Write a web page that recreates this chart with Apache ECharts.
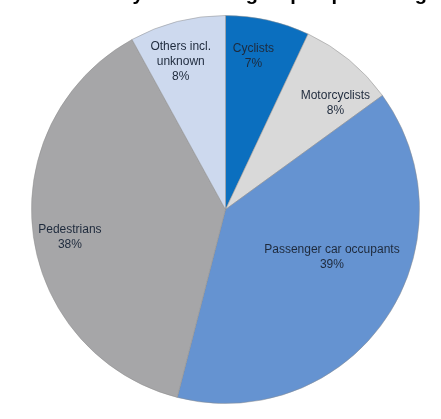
<!DOCTYPE html>
<html>
<head>
<meta charset="utf-8">
<script src="https://cdn.jsdelivr.net/npm/echarts@6/dist/echarts.min.js"></script>
<style>
  html, body { margin: 0; padding: 0; background: #fff; }
  #chart { width: 441px; height: 419px; }
</style>
</head>
<body>
<div id="chart"></div>
<script>
// road user groups, clockwise from 12 o'clock
var categories = ['Cyclists', 'Motorcyclists', 'Passenger car occupants', 'Pedestrians', 'Others incl.\nunknown'];
var shares = [7, 8, 39, 38, 8];
var colors = ['#0b6fbf', '#d9d9d9', '#6593d1', '#a6a6a8', '#cdd9ee'];

// label nudge: radial scale of the default inside spot, and a turn in degrees
var labelPush = [1.56, 1.53, 1.165, 1.58, 1.54];
var labelTurn = [-2.3, 6.3, -10.2, -2.8, -2.5];
var center = [225.5, 209.5];

var chart = echarts.init(document.getElementById('chart'));

var pieData = categories.map(function (name, i) {
    return { name: name, value: shares[i], itemStyle: { color: colors[i] } };
});

var option = {
    animation: false,
    title: {
        text: 'Road fatalities by road user group in percentage',
        left: -27,
        top: -21,
        textStyle: { fontFamily: 'Liberation Sans', fontSize: 20, fontWeight: 'bold', color: '#000' }
    },
    series: [{
        type: 'pie',
        center: center,
        radius: [0, 194],
        startAngle: 90,
        clockwise: true,
        data: pieData,
        itemStyle: { borderColor: '#8c8c8c', borderWidth: 0.5 },
        emphasis: { disabled: true },
        label: {
            show: true,
            position: 'inside',
            formatter: '{b}\n{d}%',
            fontFamily: 'Liberation Sans',
            fontSize: 12,
            lineHeight: 15,
            color: '#1e2a3c'
        },
        labelLine: { show: false },
        labelLayout: function (params) {
            var r = params.labelRect;
            var f = labelPush[params.dataIndex];
            var a = labelTurn[params.dataIndex] * Math.PI / 180;
            var lx = (r.x + r.width / 2 - center[0]) * f;
            var ly = (r.y + r.height / 2 - center[1]) * f;
            return {
                x: center[0] + lx * Math.cos(a) - ly * Math.sin(a),
                y: center[1] + lx * Math.sin(a) + ly * Math.cos(a)
            };
        }
    }]
};

chart.setOption(option);
</script>
</body>
</html>
